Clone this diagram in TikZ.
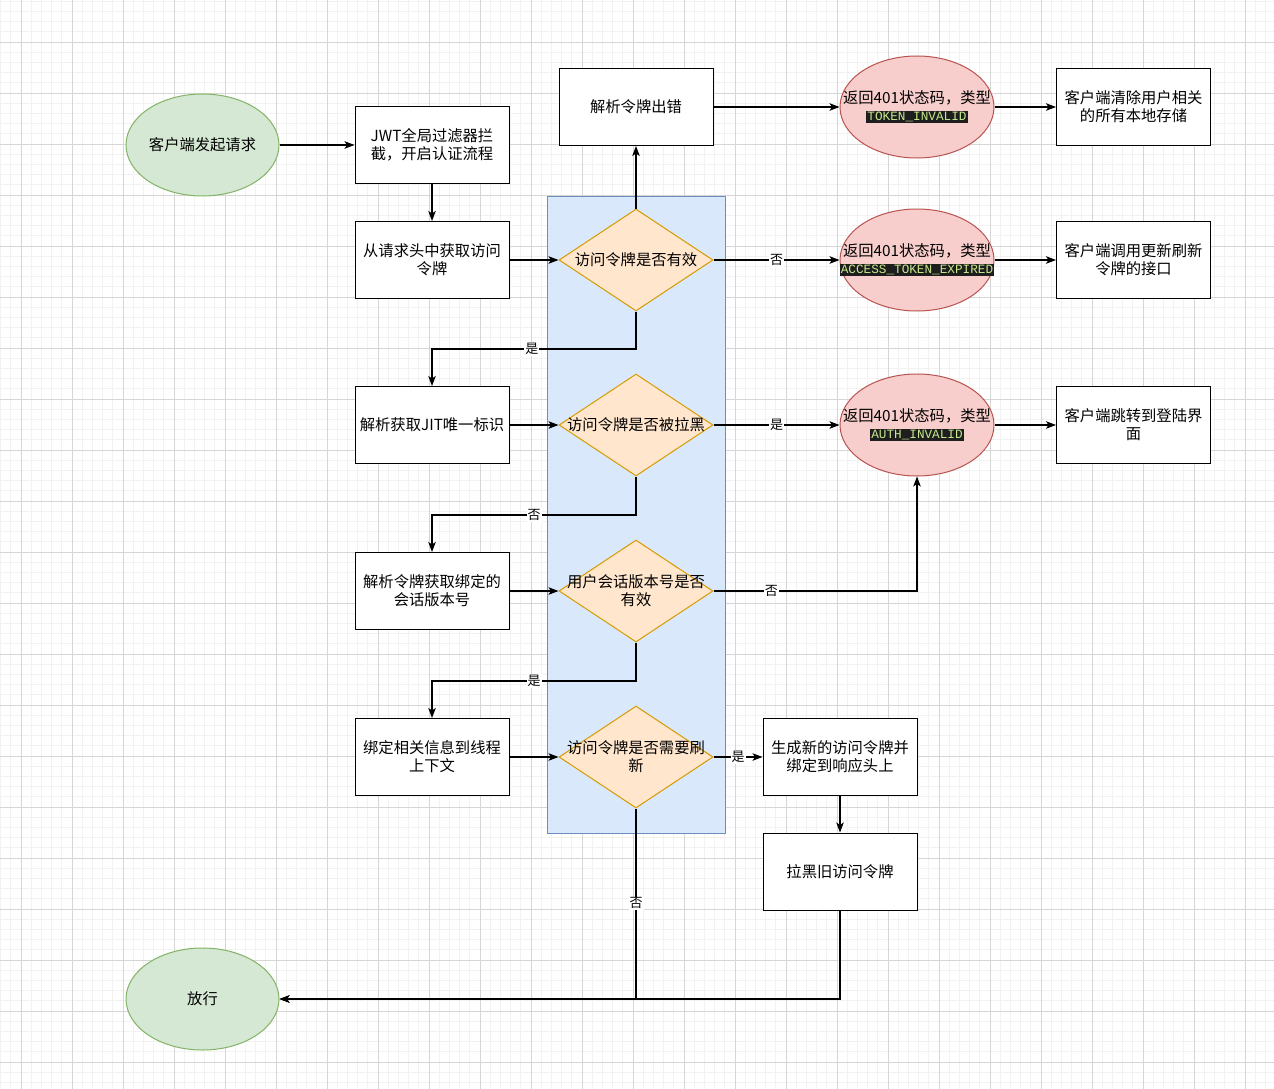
\documentclass[tikz,border=0pt]{standalone}
\usepackage{fontspec}
\setmainfont{Noto Sans CJK SC}
\newfontfamily\codefont{Liberation Mono}
\usetikzlibrary{shapes.geometric,arrows.meta}
\definecolor{gfill}{HTML}{D5E8D4}\definecolor{gline}{HTML}{82B366}
\definecolor{rfill}{HTML}{F8CECC}\definecolor{rline}{HTML}{B85450}
\definecolor{ofill}{HTML}{FFE6CC}\definecolor{oline}{HTML}{D79B00}
\definecolor{bfill}{HTML}{DAE8FC}\definecolor{bline}{HTML}{6C8EBF}
\definecolor{codebg}{HTML}{1E1E1E}\definecolor{codefg}{HTML}{C5E88A}
\definecolor{gminor}{HTML}{F2F2F2}\definecolor{gmajor}{HTML}{D6D6D6}
\newcommand\codebox[1]{{\setlength{\fboxsep}{1.2pt}\colorbox{codebg}{\codefont\fontsize{12.7}{13}\selectfont\color{codefg}#1}}}
\begin{document}
\begin{tikzpicture}[x=1pt,y=-1pt,
  txt/.style={align=center,font=\fontsize{15.3}{18}\selectfont,inner sep=0pt},
  box/.style={draw,line width=1pt,fill=white,minimum width=154pt,minimum height=77pt,inner sep=0pt,align=center,font=\fontsize{15.3}{18}\selectfont},
  gell/.style={ellipse,draw=gline,fill=gfill,line width=1pt,minimum width=153pt,minimum height=102pt,inner sep=0pt},
  rell/.style={ellipse,draw=rline,fill=rfill,line width=1pt,minimum width=154pt,minimum height=102pt,inner sep=0pt},
  dia/.style={diamond,draw=oline,fill=ofill,line width=1pt,minimum width=154pt,minimum height=102pt,inner sep=0pt},
  arr/.style={draw,line width=1.1pt,-{Stealth[length=10pt,width=7.5pt,inset=2.5pt]}},
  lbl/.style={fill=white,inner sep=1pt,font=\fontsize{13}{14}\selectfont}]
\useasboundingbox (0,0) rectangle (1274,1089);
\fill[white] (0,0) rectangle (1274,1089);
% grid
\foreach \i in {0,...,124} \draw[gminor,line width=0.8pt] ({0.6+\i*10.2},0) -- ({0.6+\i*10.2},1089);
\foreach \i in {0,...,106} \draw[gminor,line width=0.8pt] (0,{1.2+\i*10.2}) -- (1274,{1.2+\i*10.2});
\foreach \i in {0,...,24} \draw[gmajor,line width=0.8pt] ({21+\i*51},0) -- ({21+\i*51},1089);
\foreach \i in {0,...,20} \draw[gmajor,line width=0.8pt] (0,{42+\i*51}) -- (1274,{42+\i*51});
% blue lane
\node[draw=bline,fill=bfill,line width=1pt,minimum width=178pt,minimum height=637pt,inner sep=0pt] (lane) at (636,514.5) {};
% nodes
\node[gell] (start) at (202.5,145) {};
\node[txt] (startt) at (start) {客户端发起请求};
\node[box] (b1) at (432,145) {JWT全局过滤器拦\\截，开启认证流程};
\node[box] (b2) at (432,260) {从请求头中获取访问\\令牌};
\node[box] (b3) at (432,425) {解析获取JIT唯一标识};
\node[box] (b4) at (432,591) {解析令牌获取绑定的\\会话版本号};
\node[box] (b5) at (432,757) {绑定相关信息到线程\\上下文};
\node[box] (err) at (636,107) {解析令牌出错};
\node[dia] (d1) at (636,260) {};
\node[txt] (d1t) at (d1) {访问令牌是否有效};
\node[dia] (d2) at (636,425) {};
\node[txt] (d2t) at (d2) {访问令牌是否被拉黑};
\node[dia] (d3) at (636,591) {};
\node[txt] (d3t) at (d3) {用户会话版本号是否\\有效};
\node[dia] (d4) at (636,757) {};
\node[txt] (d4t) at (d4) {访问令牌是否需要刷\\新};
\node[rell] (r1) at (917,107) {};
\node[txt] (r1t) at (r1) {返回401状态码，类型\\[-1pt]\codebox{TOKEN\_INVALID}};
\node[rell] (r2) at (917,260) {};
\node[txt] (r2t) at (r2) {返回401状态码，类型\\[-1pt]\codebox{ACCESS\_TOKEN\_EXPIRED}};
\node[rell] (r3) at (917,425) {};
\node[txt] (r3t) at (r3) {返回401状态码，类型\\[-1pt]\codebox{AUTH\_INVALID}};
\node[box] (c1) at (1133.5,107) {客户端清除用户相关\\的所有本地存储};
\node[box] (c2) at (1133.5,260) {客户端调用更新刷新\\令牌的接口};
\node[box] (c3) at (1133.5,425) {客户端跳转到登陆界\\面};
\node[box] (g1) at (840,757) {生成新的访问令牌并\\绑定到响应头上};
\node[box] (g2) at (840,871.5) {拉黑旧访问令牌};
\node[gell] (pass) at (202.5,999) {};
\node[txt] (passt) at (pass) {放行};
% edges
\draw[arr] (start.east) -- (b1.west);
\draw[arr] (b1.south) -- (b2.north);
\draw[arr] (b2.east) -- (d1.west);
\draw[arr] (d1.north) -- (err.south);
\draw[arr] (err.east) -- (r1.west);
\draw[arr] (r1.east) -- (c1.west);
\draw[arr] (d1.east) -- node[lbl]{否} (r2.west);
\draw[arr] (r2.east) -- (c2.west);
\draw[arr] (d1.south) -- (636,349) -- node[lbl,pos=0.51]{是} (432,349) -- (b3.north);
\draw[arr] (b3.east) -- (d2.west);
\draw[arr] (d2.east) -- node[lbl]{是} (r3.west);
\draw[arr] (r3.east) -- (c3.west);
\draw[arr] (d2.south) -- (636,515) -- node[lbl,pos=0.5]{否} (432,515) -- (b4.north);
\draw[arr] (b4.east) -- (d3.west);
\draw[arr] (d3.east) -| node[lbl,pos=0.142]{否} (r3.south);
\draw[arr] (d3.south) -- (636,681) -- node[lbl,pos=0.5]{是} (432,681) -- (b5.north);
\draw[arr] (b5.east) -- (d4.west);
\draw[arr] (d4.east) -- node[lbl]{是} (g1.west);
\draw[arr] (g1.south) -- (g2.north);
\draw[arr] (d4.south) |- node[lbl,pos=0.249]{否} (pass.east);
\draw[arr] (g2.south) |- (pass.east);
\end{tikzpicture}
\end{document}
